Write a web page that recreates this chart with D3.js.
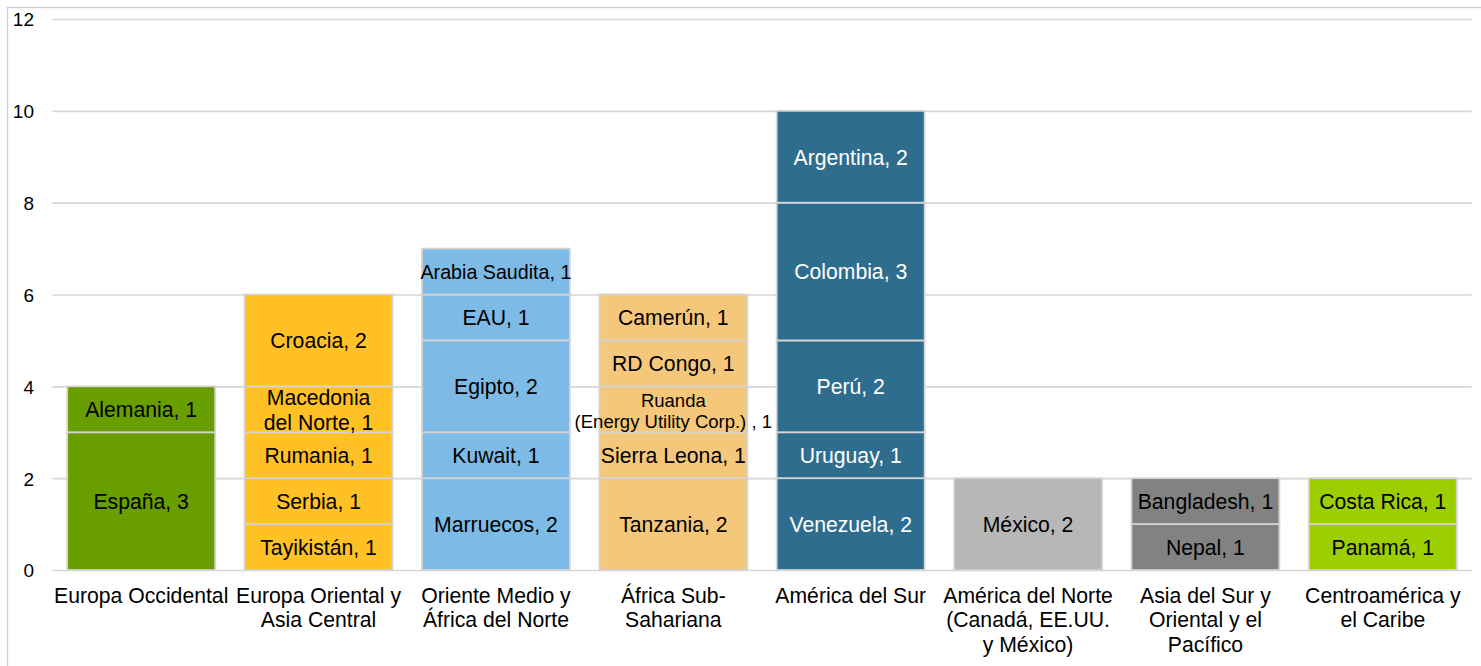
<!DOCTYPE html>
<html>
<head>
<meta charset="utf-8">
<script src="https://cdn.jsdelivr.net/npm/d3@7"></script>
<style>
  body { margin: 0; background: #fff; }
  svg { display: block; font-family: "Liberation Sans", Arial, sans-serif; }
  .tick text { font-size: 19px; fill: #000; }
  .grid line { stroke: #d6d6d6; stroke-width: 1.6px; }
</style>
</head>
<body>
<div id="wrapper"></div>
<script>
// regions (x categories), with their wrapped label lines
const categories = [
  "Europa Occidental",
  "Europa Oriental y Asia Central",
  "Oriente Medio y África del Norte",
  "África Sub-Sahariana",
  "América del Sur",
  "América del Norte (Canadá, EE.UU. y México)",
  "Asia del Sur y Oriental y el Pacífico",
  "Centroamérica y el Caribe",
];
const categoryLines = [
  ["Europa Occidental"],
  ["Europa Oriental y", "Asia Central"],
  ["Oriente Medio y", "África del Norte"],
  ["África Sub-", "Sahariana"],
  ["América del Sur"],
  ["América del Norte", "(Canadá, EE.UU.", "y México)"],
  ["Asia del Sur y", "Oriental y el", "Pacífico"],
  ["Centroamérica y", "el Caribe"],
];

// stacked segments, bottom to top
const countries = [
  ["España", "Alemania"],
  ["Tayikistán", "Serbia", "Rumania", "Macedonia\ndel Norte", "Croacia"],
  ["Marruecos", "Kuwait", "Egipto", "EAU", "Arabia Saudita"],
  ["Tanzania", "Sierra Leona", "Ruanda\n(Energy Utility Corp.) ", "RD Congo", "Camerún"],
  ["Venezuela", "Uruguay", "Perú", "Colombia", "Argentina"],
  ["México"],
  ["Nepal", "Bangladesh"],
  ["Panamá", "Costa Rica"],
];
const counts = [
  [3, 1],
  [1, 1, 1, 1, 2],
  [2, 1, 2, 1, 1],
  [2, 1, 1, 1, 1],
  [2, 1, 2, 3, 2],
  [2],
  [1, 1],
  [1, 1],
];

const yTicks = [0, 2, 4, 6, 8, 10, 12];

const barColors = ["#689e00", "#ffc125", "#7ebae6", "#f5c77b", "#2e6d8d", "#b7b7b7", "#828282", "#9dcf00"];
const labelColors = ["#000", "#000", "#000", "#000", "#fff", "#000", "#000", "#000"];

function drawChart() {
  const dimensions = {
    width: 1481,
    height: 666,
    margin: { top: 19, right: 9.5, bottom: 96, left: 52.5 },
  };
  dimensions.boundedWidth = dimensions.width - dimensions.margin.left - dimensions.margin.right;
  dimensions.boundedHeight = dimensions.height - dimensions.margin.top - dimensions.margin.bottom;

  const svg = d3.select("#wrapper")
    .append("svg")
    .attr("width", dimensions.width)
    .attr("height", dimensions.height);

  // outer frame
  svg.append("rect")
    .attr("x", 7.5).attr("y", 7.5)
    .attr("width", dimensions.width).attr("height", dimensions.height)
    .attr("fill", "none")
    .attr("stroke", "#cfcfcf")
    .attr("stroke-width", 1.3);

  const bounds = svg.append("g")
    .attr("transform", `translate(${dimensions.margin.left},${dimensions.margin.top})`);

  // scales
  const xScale = d3.scaleBand()
    .domain(categories)
    .range([0, dimensions.boundedWidth])
    .paddingInner(0.166)
    .paddingOuter(0.083);

  const yScale = d3.scaleLinear()
    .domain([0, 12])
    .range([dimensions.boundedHeight, 0]);

  // gridlines + y tick labels
  const yAxis = d3.axisLeft(yScale)
    .tickValues(yTicks)
    .tickSize(-dimensions.boundedWidth)
    .tickPadding(18.5);

  bounds.append("g")
    .attr("class", "grid")
    .call(yAxis)
    .call((g) => g.select(".domain").remove())
    .call((g) => g.selectAll(".tick text").attr("dy", "0.36em"));

  // stacked bars
  const segments = [];
  categories.forEach((cat, i) => {
    const tops = d3.cumsum(counts[i]);
    counts[i].forEach((v, j) => {
      segments.push({
        category: cat,
        index: i,
        name: countries[i][j],
        value: v,
        y0: tops[j] - v,
        y1: tops[j],
      });
    });
  });

  const segs = bounds.append("g")
    .selectAll("g")
    .data(segments)
    .join("g");

  segs.append("rect")
    .attr("x", (d) => xScale(d.category))
    .attr("width", xScale.bandwidth())
    .attr("y", (d) => yScale(d.y1))
    .attr("height", (d) => yScale(d.y0) - yScale(d.y1))
    .attr("fill", (d) => barColors[d.index])
    .attr("stroke", "#d4d4d4")
    .attr("stroke-width", 1.8);

  const maxLabel = xScale.bandwidth() + 3;

  segs.append("text")
    .attr("text-anchor", "middle")
    .attr("fill", (d) => labelColors[d.index])
    .style("font-size", (d) => (d.name.startsWith("Ruanda") ? "18.5px" : "21.2px"))
    .each(function (d) {
      const lines = `${d.name}, ${d.value}`.split("\n");
      const lh = d.name.startsWith("Ruanda") ? 21 : 25;
      const cx = xScale(d.category) + xScale.bandwidth() / 2;
      const cy = (yScale(d.y0) + yScale(d.y1)) / 2 + 7.8 - ((lines.length - 1) * lh) / 2;
      const t = d3.select(this);
      t.selectAll("tspan")
        .data(lines)
        .join("tspan")
        .attr("x", cx)
        .attr("y", (l, k) => cy + k * lh)
        .text((l) => l);
      // single-line labels that overflow the bar get shrunk a little
      if (lines.length === 1) {
        const len = this.getComputedTextLength();
        if (len > maxLabel) t.style("font-size", `${(21.2 * maxLabel) / len}px`);
      }
    });

  // category labels
  const catLabels = bounds.append("g")
    .selectAll("text")
    .data(categories)
    .join("text")
    .attr("text-anchor", "middle")
    .style("font-size", "21.2px")
    .attr("fill", "#000");

  catLabels.each(function (c, i) {
    d3.select(this)
      .selectAll("tspan")
      .data(categoryLines[i])
      .join("tspan")
      .attr("x", xScale(c) + xScale.bandwidth() / 2)
      .attr("y", dimensions.boundedHeight + 32.5)
      .attr("dy", (l, k) => k * 24.5)
      .text((l) => l);
  });
}
drawChart();
</script>
</body>
</html>
